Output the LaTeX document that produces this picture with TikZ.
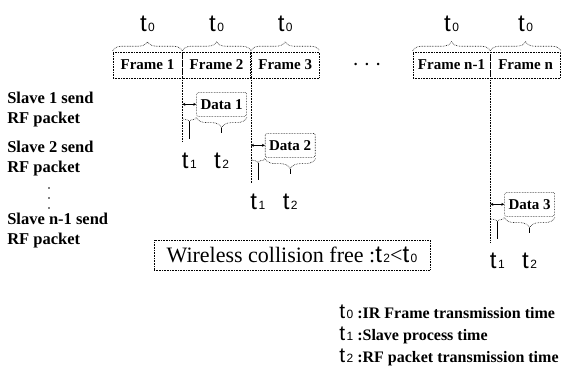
\documentclass[tikz,border=0pt]{standalone}
\usepackage{fontspec}
\setmainfont{Liberation Serif}
\setsansfont{Liberation Sans}
\usetikzlibrary{positioning,decorations.pathreplacing,arrows.meta}
\newcommand{\tsub}[2][24]{{\sffamily\mdseries\fontsize{#1}{#1}\selectfont t\kern1.5pt{\fontsize{12}{12}\selectfont #2}}}

\begin{document}
\begin{tikzpicture}[x=1pt,y=-1pt,line width=0.6pt,
    frm/.style={draw, densely dotted, minimum height=26pt, inner sep=0pt,
      font=\bfseries\fontsize{15}{15}\selectfont},
    dblk/.style={draw, densely dotted, rounded corners=1.5pt, minimum width=50pt,
      minimum height=24pt, inner sep=0pt, font=\bfseries\fontsize{15}{15}\selectfont},
    tbrc/.style={densely dotted, decorate, decoration={brace, amplitude=#1, raise=1pt}},
    tbrc/.default=9pt,
    slave/.style={align=left, anchor=west, inner sep=0pt,
      font=\bfseries\fontsize{16.5}{20}\selectfont},
    legd/.style={anchor=base west, inner sep=0pt, font=\bfseries\fontsize{16}{16}\selectfont}]
  \useasboundingbox (0,0) rectangle (579,376);

  % IR frames
  \node[frm, minimum width=69pt] (f1) at (147.5,65) {Frame 1};
  \node[frm, minimum width=68pt, right=0pt of f1] (f2) {Frame 2};
  \node[frm, minimum width=68pt, right=0pt of f2] (f3) {Frame 3};
  \node[frm, minimum width=77pt] (fn1) at (451.5,65) {Frame n-1};
  \node[frm, minimum width=70pt, right=0pt of fn1] (fn) {Frame n};
  \node[font=\bfseries\fontsize{15}{15}\selectfont] (dots) at (367,64) {.\,\,\,.\,\,\,.};

  % t0 over every frame
  \foreach \f in {f1,f2,f3,fn1,fn}
   {
    \draw[tbrc] (\f.north west) -- (\f.north east);
    \node[anchor=base, inner sep=0pt] (t0\f) at (\f.north |- 0,31) {\tsub{0}};
   }

  % RF data of the slaves
  \foreach \f/\yt/\n in {f1/92/1, f2/133/2, fn1/192/3}
   {
    \coordinate (b\n) at (\f.south east |- 0,\yt);
    \node[dblk, anchor=north west] (d\n) at ([xshift=14pt]b\n) {Data \n};
    \coordinate (a\n) at (b\n |- d\n.west);
    \draw[{Stealth[length=3pt,width=3pt]}-{Stealth[length=3pt,width=3pt]}] (a\n) -- (d\n.west);
    \coordinate (s\n) at (d\n.south -| b\n);
    \path (s\n) ++(0,25) coordinate (e\n);
    \draw[densely dotted] (\f.south east) -- (e\n);
    %t1
    \draw[tbrc=4pt] (d\n.south west) -- (s\n);
    \path (s\n) ++(7,5) coordinate (p\n) ++(0,17) coordinate (q\n);
    \draw (p\n) -- (q\n);
    \node[anchor=base, inner sep=0pt] (t1d\n) at ([yshift=-30pt]q\n) {\tsub{1}};
    %t2
    \draw[tbrc=10pt] (d\n.south east) -- (d\n.south west);
    \path (d\n.south) ++(0,11) coordinate (u\n) ++(0,5) coordinate (v\n);
    \draw (u\n) -- (v\n);
    \node[anchor=base, inner sep=0pt] (t2d\n) at (t1d\n.base -| d\n.south) {\tsub{2}};
   }

  % slaves
  \node[slave] (sl1) at (7,110) {Slave 1 send\\RF packet};
  \node[slave] (sl2) at (7,159) {Slave 2 send\\RF packet};
  \foreach \k in {0,1,2}
    \fill (49,188+10*\k) circle (0.9);
  \node[slave] (sl3) at (7,231) {Slave n-1 send\\RF packet};

  \node[draw, densely dotted, minimum width=276pt, minimum height=30pt,
    font=\fontsize{22}{22}\selectfont] (wcf) at (292,255)
    {Wireless collision free :\tsub{2}<\tsub{0}};

  % legend
  \node[legd] (lg0) at (339,318) {\tsub[21]{0}\kern4pt:IR Frame transmission time};
  \node[legd] (lg1) at (339,340) {\tsub[21]{1}\kern4pt:Slave process time};
  \node[legd] (lg2) at (339,362) {\tsub[21]{2}\kern4pt:RF packet transmission time};
\end{tikzpicture}
\end{document}
